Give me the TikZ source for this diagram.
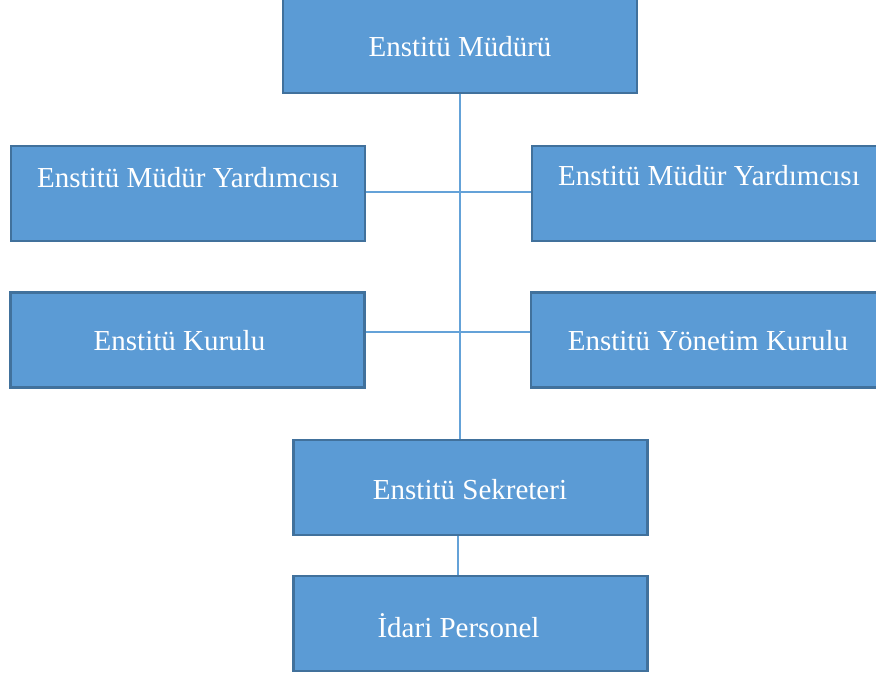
\documentclass[tikz,border=0pt]{standalone}
\usepackage{fontspec}
\setmainfont{Liberation Serif}
\usetikzlibrary{positioning}
\definecolor{kutumavi}{HTML}{5B9BD5}
\definecolor{kenarmavi}{HTML}{41719C}
\definecolor{hatmavi}{HTML}{64A2D8}
\tikzset{
  kutu/.style={draw=kenarmavi, line width=2.5pt, fill=kutumavi,
    minimum width=354pt, minimum height=95pt, inner sep=0pt},
  yazi/.style={text=white, inner sep=0pt, font=\fontsize{29}{34}\selectfont},
  hat/.style={draw=hatmavi, line width=1.2pt}
}

\begin{document}
\begin{tikzpicture}[x=1pt, y=-1pt]
  \useasboundingbox (0,0) rectangle (876,674);
  % kutular
  \node[kutu] (mudur) at (460,45.5) {};
  \node[kutu] (yrd1) at (188,193.5) {};
  \node[kutu] (yrd2) at (709,193.5) {};
  \node[kutu] (kurul) at (187.5,340) {};
  \node[kutu] (yonetim) at (708,340) {};
  \node[kutu] (sekreter) at (470.5,487.5) {};
  \node[kutu] (personel) at (470.5,623.5) {};
  % yazilar
  \node[yazi] (mudurT) at (460,47) {Enstitü Müdürü};
  \node[yazi] (yrd1T) at (188,178) {Enstitü Müdür Yardımcısı};
  \node[yazi] (yrd2T) at (709,176) {Enstitü Müdür Yardımcısı};
  \node[yazi] (kurulT) at (179.5,341) {Enstitü Kurulu};
  \node[yazi] (yonetimT) at (708,341) {Enstitü Yönetim Kurulu};
  \node[yazi] (sekreterT) at (470,490) {Enstitü Sekreteri};
  \node[yazi] (personelT) at (458.5,626) {İdari Personel};
  % baglantilar
  \draw[hat] (mudur.south) -- (mudur.south |- sekreter.north);
  \draw[hat] ([yshift=1.5pt]yrd1.east) -- ([yshift=1.5pt]yrd2.west);
  \draw[hat] ([yshift=8pt]kurul.east) -- ([yshift=8pt]yonetim.west);
  \draw[hat] ([xshift=-12.5pt]sekreter.south) -- ([xshift=-12.5pt]personel.north);
\end{tikzpicture}
\end{document}
